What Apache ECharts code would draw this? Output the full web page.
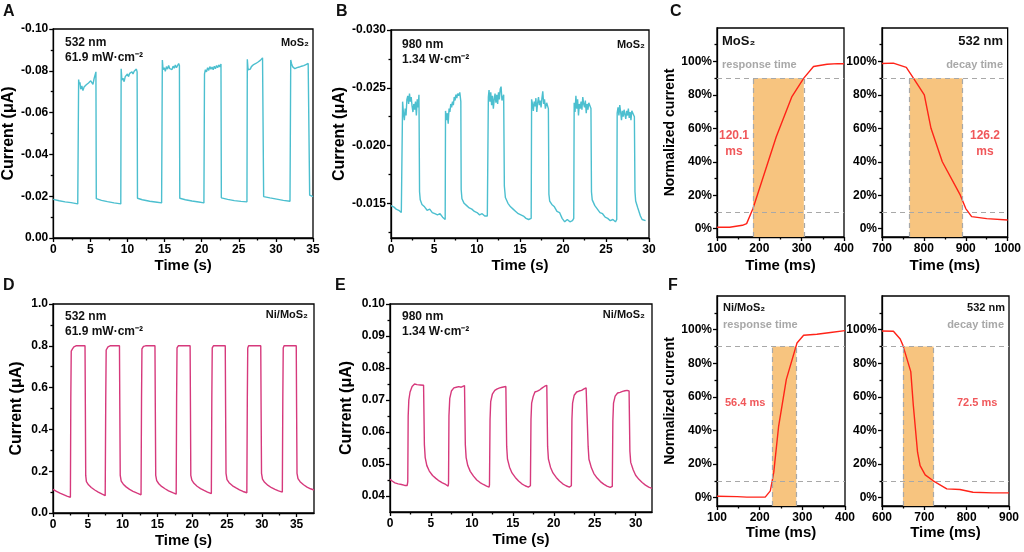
<!DOCTYPE html>
<html>
<head>
<meta charset="utf-8">
<script src="https://cdn.jsdelivr.net/npm/echarts@6.0.0/dist/echarts.min.js"></script>
<style>
  html, body { margin: 0; padding: 0; background: #fff; }
  #chart-container { width: 1024px; height: 552px; }
</style>
</head>
<body>
<div id="chart-container"></div>
<script>
'use strict';

// ---- tick values ----
const aXTicks = [0, 5, 10, 15, 20, 25, 30, 35];
const aXMinor = [2.5, 7.5, 12.5, 17.5, 22.5, 27.5, 32.5];
const aYTicks = [0, -0.02, -0.04, -0.06, -0.08, -0.10];
const aYMinor = [-0.01, -0.03, -0.05, -0.07, -0.09];
const bXTicks = [0, 5, 10, 15, 20, 25, 30];
const bXMinor = [2.5, 7.5, 12.5, 17.5, 22.5, 27.5];
const bYTicks = [-0.030, -0.025, -0.020, -0.015];
const bYMinor = [-0.0275, -0.0225, -0.0175, -0.0125];
const dXTicks = [0, 5, 10, 15, 20, 25, 30, 35];
const dXMinor = [2.5, 7.5, 12.5, 17.5, 22.5, 27.5, 32.5];
const dYTicks = [0, 0.2, 0.4, 0.6, 0.8, 1.0];
const dYMinor = [0.1, 0.3, 0.5, 0.7, 0.9];
const eXTicks = [0, 5, 10, 15, 20, 25, 30];
const eXMinor = [2.5, 7.5, 12.5, 17.5, 22.5, 27.5];
const eYTicks = [0.04, 0.05, 0.06, 0.07, 0.08, 0.09, 0.10];
const eYMinor = [0.045, 0.055, 0.065, 0.075, 0.085, 0.095];
const cXTicksL = [100, 200, 300, 400];
const cXMinorL = [150, 250, 350];
const cXTicksR = [700, 800, 900, 1000];
const cXMinorR = [750, 850, 950];
const fXTicksL = [100, 200, 300, 400];
const fXMinorL = [150, 250, 350];
const fXTicksR = [600, 700, 800, 900];
const fXMinorR = [650, 750, 850];
const normTicks = [0, 20, 40, 60, 80, 100];
const normMinor = [10, 30, 50, 70, 90, 110];

// ---- 10% / 90% levels and shaded spans (ms) ----
const levels = [10, 90];
const cLeftShade = [185, 305.1];
const cRightShade = [766, 892.2];
const fLeftShade = [229.5, 285.9];
const fRightShade = [649.5, 722];

// ---- A: MoS2, 532 nm [time s, current uA] ----
const aTrace = [
  [0, -0.0185], [0.8, -0.0178], [1.6, -0.0173], [2.4, -0.0169], [3.3, -0.0163],
  [3.42, -0.0758], [3.5, -0.0735], [3.6, -0.0745], [3.7, -0.0712], [3.85, -0.0728], [4, -0.0705],
  [4.15, -0.0722], [4.3, -0.0718], [4.45, -0.0733], [4.6, -0.0725], [4.75, -0.0742], [4.9, -0.0738],
  [5.05, -0.0752], [5.2, -0.0745], [5.35, -0.0735], [5.5, -0.0762], [5.65, -0.0758], [5.75, -0.0795],
  [5.8, -0.0188], [6.5, -0.0180], [7.3, -0.0174], [8.2, -0.0168], [9.1, -0.0163],
  [9.15, -0.081], [9.25, -0.0755], [9.4, -0.0765], [9.55, -0.0748], [9.7, -0.0772], [9.85, -0.0768],
  [10, -0.0785], [10.15, -0.0772], [10.3, -0.0788], [10.45, -0.078], [10.6, -0.0795], [10.75, -0.0785],
  [10.9, -0.0798], [11.05, -0.079], [11.2, -0.0808], [11.3, -0.0795],
  [11.35, -0.019], [12, -0.0183], [13, -0.0176], [14, -0.0171], [14.6, -0.0168],
  [14.7, -0.0852], [14.8, -0.0805], [14.95, -0.0815], [15.1, -0.0798], [15.25, -0.082], [15.4, -0.0808],
  [15.55, -0.0825], [15.7, -0.081], [15.85, -0.0818], [16, -0.0806], [16.15, -0.0822], [16.3, -0.0812],
  [16.45, -0.0828], [16.6, -0.0815], [16.75, -0.0822], [16.9, -0.0835], [17, -0.0825],
  [17.05, -0.019], [17.8, -0.0183], [18.7, -0.0177], [19.6, -0.0172], [20.3, -0.0168],
  [20.38, -0.0785], [20.5, -0.0805], [20.65, -0.0795], [20.8, -0.0815], [20.95, -0.0802], [21.1, -0.082],
  [21.25, -0.0808], [21.4, -0.0818], [21.55, -0.0805], [21.7, -0.0822], [21.85, -0.081], [22, -0.0825],
  [22.15, -0.0815], [22.3, -0.0828], [22.45, -0.0818], [22.6, -0.0832],
  [22.65, -0.0192], [23.5, -0.0185], [24.4, -0.0179], [25.3, -0.0175], [26.1, -0.0173],
  [26.15, -0.0855], [26.25, -0.0805], [26.4, -0.0812], [26.55, -0.0808], [26.7, -0.082], [26.85, -0.0815],
  [27, -0.083], [27.15, -0.0825], [27.3, -0.0835], [27.45, -0.0828], [27.6, -0.0842], [27.75, -0.0838],
  [27.9, -0.085], [28.05, -0.0845], [28.2, -0.0862], [28.3, -0.0855],
  [28.35, -0.0198], [29.2, -0.0192], [30.1, -0.0186], [31, -0.0180], [31.9, -0.0176],
  [32, -0.0852], [32.1, -0.0835], [32.25, -0.082], [32.4, -0.0828], [32.55, -0.081], [32.7, -0.0805],
  [32.85, -0.0815], [33, -0.0808], [33.15, -0.0818], [33.3, -0.0812], [33.45, -0.0822], [33.6, -0.0815],
  [33.75, -0.0825], [33.9, -0.0818], [34.05, -0.083], [34.2, -0.0822], [34.35, -0.0835], [34.5, -0.0828],
  [34.55, -0.0205], [35, -0.0198]
];

// ---- B: MoS2, 980 nm ----
const bTrace = [
  [0, -0.0148], [0.3, -0.0147], [0.6, -0.0145], [0.9, -0.0144], [1.2, -0.0142], [1.3, -0.0143],
  [1.35, -0.0238], [1.45, -0.0228], [1.55, -0.0222], [1.65, -0.0232], [1.75, -0.0226], [1.85, -0.0240],
  [1.95, -0.0243], [2.05, -0.0236], [2.15, -0.0245], [2.25, -0.0238], [2.35, -0.0242], [2.45, -0.0234],
  [2.55, -0.0229], [2.65, -0.0236], [2.75, -0.0231], [2.85, -0.0238], [2.95, -0.0226], [3.05, -0.0240],
  [3.15, -0.0233], [3.25, -0.0244],
  [3.32, -0.0160], [3.4, -0.0153], [3.6, -0.0149], [3.9, -0.0147], [4.2, -0.0144], [4.5, -0.0145],
  [4.8, -0.0142], [5.1, -0.0141], [5.4, -0.0140], [5.7, -0.0141], [6.0, -0.0138], [6.3, -0.0136],
  [6.34, -0.0230], [6.45, -0.0222], [6.55, -0.0228], [6.65, -0.0219], [6.75, -0.0232], [6.85, -0.0229],
  [6.95, -0.0236], [7.05, -0.0233], [7.15, -0.0238], [7.25, -0.0235], [7.35, -0.0242], [7.45, -0.0239],
  [7.55, -0.0244], [7.65, -0.0241], [7.75, -0.0245], [7.85, -0.0243], [8.0, -0.0246], [8.12, -0.0238],
  [8.16, -0.0162], [8.25, -0.0154], [8.5, -0.0150], [8.8, -0.0148], [9.1, -0.0146], [9.4, -0.0145],
  [9.7, -0.0143], [10.0, -0.0142], [10.3, -0.0140], [10.6, -0.0141], [10.9, -0.0139], [11.2, -0.0139],
  [11.32, -0.0242], [11.4, -0.0248], [11.5, -0.0238], [11.6, -0.0246], [11.7, -0.0235], [11.8, -0.0243],
  [11.9, -0.0232], [12.0, -0.0240], [12.1, -0.0245], [12.2, -0.0237], [12.3, -0.0244], [12.4, -0.0236],
  [12.5, -0.0246], [12.6, -0.0240], [12.7, -0.0249], [12.8, -0.0251], [12.9, -0.0239], [13.1, -0.0244],
  [13.18, -0.0165], [13.3, -0.0155], [13.6, -0.0150], [13.9, -0.0147], [14.2, -0.0145], [14.5, -0.0143],
  [14.8, -0.0141], [15.1, -0.0140], [15.4, -0.0139], [15.7, -0.0137], [16.0, -0.0136], [16.3, -0.0137],
  [16.35, -0.0240], [16.45, -0.0236], [16.55, -0.0230], [16.65, -0.0238], [16.75, -0.0234], [16.85, -0.0241],
  [16.95, -0.0229], [17.05, -0.0237], [17.15, -0.0242], [17.25, -0.0235], [17.35, -0.0239], [17.45, -0.0233],
  [17.55, -0.0241], [17.65, -0.0247], [17.75, -0.0236], [17.85, -0.0240], [17.95, -0.0232], [18.1, -0.0237],
  [18.3, -0.0232],
  [18.36, -0.0158], [18.45, -0.0152], [18.7, -0.0149], [19.0, -0.0147], [19.3, -0.0143], [19.6, -0.0142],
  [19.9, -0.0137], [20.2, -0.0134], [20.5, -0.0136], [20.8, -0.0134], [21.1, -0.0135], [21.25, -0.0137],
  [21.3, -0.0237], [21.4, -0.0229], [21.5, -0.0243], [21.6, -0.0232], [21.7, -0.0240], [21.8, -0.0226],
  [21.9, -0.0236], [22.0, -0.0232], [22.1, -0.0238], [22.2, -0.0231], [22.3, -0.0242], [22.4, -0.0236],
  [22.5, -0.0233], [22.6, -0.0239], [22.7, -0.0228], [22.8, -0.0236], [22.9, -0.0231], [23.0, -0.0237],
  [23.25, -0.0232],
  [23.31, -0.0160], [23.4, -0.0153], [23.7, -0.0148], [24.0, -0.0145], [24.3, -0.0142], [24.6, -0.0141],
  [24.9, -0.0138], [25.2, -0.0137], [25.5, -0.0135], [25.8, -0.0136], [26.1, -0.0134], [26.25, -0.0136],
  [26.3, -0.0228], [26.4, -0.0233], [26.5, -0.0226], [26.6, -0.0235], [26.7, -0.0229], [26.8, -0.0222],
  [26.9, -0.0230], [27.0, -0.0225], [27.1, -0.0231], [27.2, -0.0227], [27.3, -0.0223], [27.4, -0.0230],
  [27.5, -0.0226], [27.6, -0.0232], [27.7, -0.0224], [27.8, -0.0229], [27.9, -0.0222], [28.0, -0.0230],
  [28.3, -0.0225],
  [28.37, -0.0160], [28.45, -0.0152], [28.7, -0.0146], [29.0, -0.0139], [29.2, -0.0136], [29.4, -0.0137],
  [29.6, -0.0135]
];

// ---- D: Ni/MoS2, 532 nm ----
const dTrace = [
  [0, 0.113], [0.5, 0.103], [1.0, 0.095], [1.5, 0.088], [2.0, 0.081], [2.5, 0.075],
  [2.56, 0.55], [2.62, 0.775], [2.8, 0.785], [3.0, 0.795], [3.3, 0.8], [4.6, 0.8],
  [4.65, 0.5], [4.7, 0.18], [4.8, 0.15], [5.1, 0.135], [5.5, 0.122], [6.0, 0.11], [6.5, 0.1], [7.0, 0.091], [7.5, 0.083],
  [7.58, 0.55], [7.64, 0.78], [7.9, 0.795], [8.2, 0.8], [9.55, 0.8],
  [9.6, 0.5], [9.66, 0.18], [9.8, 0.153], [10.1, 0.138], [10.5, 0.125], [11, 0.113], [11.5, 0.104], [12.1, 0.095], [12.65, 0.087],
  [12.72, 0.55], [12.78, 0.785], [13.0, 0.797], [13.3, 0.8], [14.65, 0.8],
  [14.7, 0.5], [14.76, 0.18], [14.9, 0.155], [15.2, 0.14], [15.6, 0.127], [16.1, 0.116], [16.6, 0.106], [17.2, 0.097], [17.7, 0.09],
  [17.76, 0.55], [17.82, 0.79], [18.0, 0.8], [19.7, 0.8],
  [19.75, 0.5], [19.8, 0.18], [19.95, 0.157], [20.25, 0.142], [20.7, 0.128], [21.2, 0.117], [21.7, 0.108], [22.2, 0.1], [22.75, 0.093],
  [22.82, 0.55], [22.88, 0.79], [23.05, 0.8], [24.75, 0.8],
  [24.8, 0.5], [24.86, 0.19], [25.0, 0.16], [25.3, 0.145], [25.8, 0.13], [26.3, 0.12], [26.8, 0.111], [27.3, 0.103], [27.85, 0.097],
  [27.92, 0.55], [27.98, 0.79], [28.1, 0.8], [29.85, 0.8],
  [29.9, 0.5], [29.96, 0.19], [30.1, 0.162], [30.4, 0.147], [30.9, 0.132], [31.4, 0.121], [31.9, 0.113], [32.4, 0.106], [32.95, 0.1],
  [33.02, 0.55], [33.08, 0.79], [33.2, 0.8], [34.95, 0.8],
  [35.0, 0.5], [35.06, 0.19], [35.2, 0.165], [35.5, 0.15], [36.0, 0.135], [36.5, 0.124], [37.0, 0.116], [37.5, 0.11]
];

// ---- E: Ni/MoS2, 980 nm ----
const eTrace = [
  [0, 0.0452], [0.3, 0.0446], [0.6, 0.0441], [1.0, 0.0438], [1.4, 0.0436], [1.8, 0.0433], [2.1, 0.0433],
  [2.17, 0.0445], [2.22, 0.0650], [2.3, 0.0700], [2.45, 0.0725], [2.7, 0.0742], [3.0, 0.0750], [3.3, 0.0748],
  [3.5, 0.0753], [3.7, 0.0747], [3.9, 0.0752], [4.1, 0.0746], [4.15, 0.0750],
  [4.2, 0.0560], [4.3, 0.0520], [4.5, 0.0495], [4.8, 0.0478], [5.2, 0.0464], [5.6, 0.0455], [6.0, 0.0447],
  [6.4, 0.0441], [6.8, 0.0436], [7.1, 0.0431],
  [7.15, 0.0440], [7.2, 0.0650], [7.3, 0.0705], [7.5, 0.0728], [7.8, 0.0738], [8.1, 0.0740], [8.4, 0.0742],
  [8.7, 0.0740], [8.9, 0.0744], [9.1, 0.0745], [9.15, 0.0742],
  [9.2, 0.0560], [9.3, 0.0520], [9.5, 0.0495], [9.8, 0.0477], [10.2, 0.0462], [10.6, 0.0450], [11.0, 0.0442],
  [11.4, 0.0436], [11.8, 0.0431], [12.1, 0.0428],
  [12.15, 0.0435], [12.22, 0.0640], [12.3, 0.0695], [12.5, 0.0718], [12.8, 0.0730], [13.1, 0.0735], [13.4, 0.0738],
  [13.7, 0.0740], [13.9, 0.0737], [14.15, 0.0742],
  [14.25, 0.0555], [14.35, 0.0515], [14.6, 0.0490], [14.9, 0.0472], [15.3, 0.0458], [15.7, 0.0447], [16.1, 0.0438],
  [16.5, 0.0432], [16.9, 0.0428], [17.1, 0.0425],
  [17.15, 0.0432], [17.22, 0.0640], [17.3, 0.0690], [17.5, 0.0712], [17.7, 0.0725], [18.0, 0.0728], [18.3, 0.0732],
  [18.6, 0.0738], [18.9, 0.0743], [19.15, 0.0746],
  [19.25, 0.0555], [19.35, 0.0515], [19.6, 0.0490], [19.9, 0.0472], [20.3, 0.0458], [20.7, 0.0447], [21.1, 0.0438],
  [21.5, 0.0432], [21.9, 0.0428], [22.1, 0.0426],
  [22.15, 0.0432], [22.22, 0.0640], [22.3, 0.0690], [22.5, 0.0715], [22.8, 0.0725], [23.1, 0.0728], [23.4, 0.0730],
  [23.7, 0.0735], [23.95, 0.0738], [24.1, 0.0740],
  [24.2, 0.0555], [24.3, 0.0515], [24.6, 0.0488], [24.9, 0.0470], [25.3, 0.0456], [25.7, 0.0445], [26.1, 0.0437],
  [26.5, 0.0431], [26.9, 0.0427], [27.1, 0.0424],
  [27.15, 0.0430], [27.22, 0.0635], [27.3, 0.0690], [27.5, 0.0712], [27.8, 0.0722], [28.1, 0.0724], [28.4, 0.0727],
  [28.7, 0.0729], [28.95, 0.0730], [29.2, 0.0728],
  [29.3, 0.0540], [29.4, 0.0505], [29.7, 0.0482], [30.0, 0.0465], [30.4, 0.0452], [30.8, 0.0442], [31.2, 0.0434],
  [31.6, 0.0428], [32.0, 0.0424]
];

// ---- C / F: normalized current [time ms, %] ----
const cRise = [[100, 0.8], [130, 0.8], [160, 2], [170, 3], [185, 12], [240, 55], [277, 79], [305, 90],
  [328, 97], [360, 98.3], [385, 98.7], [400, 98.6]];
const cDecay = [[700, 98.8], [727, 99], [758, 96.5], [775, 90], [801, 80], [817, 60], [844, 40], [887, 20],
  [900, 12], [914, 7.2], [950, 6], [1000, 5.2]];
const fRise = [[100, 0.8], [147, 0.6], [170, 0.3], [213, 0.3], [225, 4], [233, 15], [244.5, 42.6],
  [262.5, 70.4], [287.5, 92], [303, 96.6], [334, 97.2], [366, 98.3], [400, 99.4]];
const fDecay = [[600, 99.2], [627, 99], [643, 94.4], [649, 90.9], [668, 75], [674, 54.8], [684, 27],
  [690, 19], [702, 13.5], [721, 10], [753, 5.2], [784, 4.8], [815, 3.2], [862, 2.8], [900, 2.8]];

const FONT = 'Arial, "Liberation Sans", Helvetica, sans-serif';
const CYAN = '#4cbfcf';
const PINK = '#d6397c';
const RED = '#ff2318';
const GREY = '#a8a8a8';
const SHADE = '#f7c47f';

const panels = [
  { rect: [53, 29, 260, 209], color: CYAN, data: aTrace,
    x: { min: 0, max: 35, ticks: aXTicks, minor: aXMinor, name: 'Time (s)', gap: 20 },
    y: { min: -0.1, max: 0, inverse: true, ticks: aYTicks, minor: aYMinor, fmt: v => v.toFixed(2), name: 'Current (μA)', gap: 36 } },
  { rect: [391, 30, 258, 208], color: CYAN, data: bTrace,
    x: { min: 0, max: 30, ticks: bXTicks, minor: bXMinor, name: 'Time (s)', gap: 20 },
    y: { min: -0.030, max: -0.012, inverse: true, ticks: bYTicks, minor: bYMinor, fmt: v => v.toFixed(3), name: 'Current (μA)', gap: 43 } },
  { rect: [717, 28, 127, 209], color: RED, data: cRise, shade: cLeftShade,
    x: { min: 100, max: 400, ticks: cXTicksL, minor: cXMinorL, name: 'Time (ms)', gap: 21 },
    y: { min: -5, max: 120, ticks: normTicks, minor: normMinor, fmt: v => v + '%', name: 'Normalized current', gap: 37 } },
  { rect: [882, 28, 128, 209], color: RED, data: cDecay, shade: cRightShade,
    x: { min: 700, max: 1000, ticks: cXTicksR, minor: cXMinorR, name: 'Time (ms)', gap: 21 },
    y: { min: -5, max: 120, ticks: normTicks, minor: normMinor, fmt: v => v + '%', name: '', gap: 37 } },
  { rect: [53, 304, 261, 209], color: PINK, data: dTrace,
    x: { min: 0, max: 37.5, ticks: dXTicks, minor: dXMinor, name: 'Time (s)', gap: 20 },
    y: { min: 0, max: 1, ticks: dYTicks, minor: dYMinor, fmt: v => v.toFixed(1), name: 'Current (μA)', gap: 28 } },
  { rect: [390, 304, 262, 208], color: PINK, data: eTrace,
    x: { min: 0, max: 32, ticks: eXTicks, minor: eXMinor, name: 'Time (s)', gap: 20 },
    y: { min: 0.035, max: 0.1, ticks: eYTicks, minor: eYMinor, fmt: v => v.toFixed(2), name: 'Current (μA)', gap: 35 } },
  { rect: [717, 296, 128, 210], color: RED, data: fRise, shade: fLeftShade,
    x: { min: 100, max: 400, ticks: fXTicksL, minor: fXMinorL, name: 'Time (ms)', gap: 16 },
    y: { min: -5, max: 120, ticks: normTicks, minor: normMinor, fmt: v => v + '%', name: 'Normalized current', gap: 33 } },
  { rect: [882, 296, 127, 210], color: RED, data: fDecay, shade: fRightShade,
    x: { min: 600, max: 900, ticks: fXTicksR, minor: fXMinorR, name: 'Time (ms)', gap: 16 },
    y: { min: -5, max: 120, ticks: normTicks, minor: normMinor, fmt: v => v + '%', name: '', gap: 33 } }
];

const black = { color: '#000', width: 1.3 };

function mainAxis(dim, i, c) {
  return {
    type: 'value', gridIndex: i, min: c.min, max: c.max, inverse: !!c.inverse,
    position: dim === 'x' ? 'bottom' : 'left',
    axisLine: { show: true, onZero: false, lineStyle: black },
    axisTick: { show: true, length: 4, customValues: c.ticks, lineStyle: black },
    axisLabel: {
      customValues: c.ticks, formatter: c.fmt || (v => String(v)),
      color: '#000', fontWeight: 'bold', fontSize: 12, fontFamily: FONT, margin: dim === 'x' ? 6 : 5
    },
    splitLine: { show: false },
    name: c.name, nameLocation: 'middle', nameGap: c.gap,
    nameTextStyle: { color: '#000', fontWeight: 'bold', fontFamily: FONT, fontSize: dim === 'x' ? 15 : (c.name === 'Normalized current' ? 14 : 16) }
  };
}

function minorAxis(dim, i, c) {
  return {
    type: 'value', gridIndex: i, min: c.min, max: c.max, inverse: !!c.inverse,
    position: dim === 'x' ? 'bottom' : 'left',
    axisLine: { show: false, onZero: false },
    axisTick: { show: true, length: 2.5, customValues: c.minor, lineStyle: black },
    axisLabel: { show: false, customValues: c.minor },
    splitLine: { show: false }
  };
}

const grids = [], xAxes = [], yAxes = [], series = [];
panels.forEach((p, i) => {
  grids.push({
    left: p.rect[0], top: p.rect[1], width: p.rect[2], height: p.rect[3],
    show: true, borderColor: '#000', borderWidth: 1.3, backgroundColor: 'transparent'
  });
  xAxes.push(mainAxis('x', i, p.x), minorAxis('x', i, p.x));
  yAxes.push(mainAxis('y', i, p.y), minorAxis('y', i, p.y));
  const s = {
    type: 'line', xAxisIndex: 2 * i, yAxisIndex: 2 * i, data: p.data,
    showSymbol: false, symbol: 'none', silent: true,
    lineStyle: { color: p.color, width: 1.4 }, itemStyle: { color: p.color }
  };
  if (p.shade) {
    const lo = p.y.min, hi = levels[1];
    s.markArea = {
      silent: true,
      itemStyle: { color: SHADE, opacity: 1 },
      data: [[{ coord: [p.shade[0], lo] }, { coord: [p.shade[1], hi] }]]
    };
    s.markLine = {
      silent: true, symbol: ['none', 'none'], label: { show: false },
      lineStyle: { type: [5, 4], color: GREY, width: 1.2 },
      data: [
        { yAxis: levels[0] }, { yAxis: levels[1] },
        [{ coord: [p.shade[0], lo] }, { coord: [p.shade[0], hi] }],
        [{ coord: [p.shade[1], lo] }, { coord: [p.shade[1], hi] }]
      ]
    };
  }
  series.push(s);
});

function txt(x, y, text, size, opt) {
  opt = opt || {};
  return {
    type: 'text', x: x, y: y, silent: true,
    style: {
      text: text, fill: opt.color || '#111', align: opt.align || 'left', verticalAlign: 'top',
      font: 'bold ' + size + 'px ' + FONT, lineHeight: opt.lh || size + 2
    }
  };
}

const RTXT = '#f0575a';
const graphics = [
  txt(3, 3, 'A', 16), txt(336, 3, 'B', 16), txt(670, 3, 'C', 16),
  txt(3, 277, 'D', 16), txt(335, 277, 'E', 16), txt(668, 277, 'F', 16),
  // A
  txt(65, 36, '532 nm', 12), txt(65, 51, '61.9 mW·cm⁻²', 12), txt(309, 36, 'MoS₂', 11, { align: 'right' }),
  // B
  txt(402, 38, '980 nm', 12), txt(402, 53, '1.34 W·cm⁻²', 12), txt(645, 38, 'MoS₂', 11, { align: 'right' }),
  // C
  txt(722, 34, 'MoS₂', 13), txt(722, 58, 'response time', 11, { color: GREY }),
  txt(734, 128, '120.1\nms', 12, { align: 'center', color: RTXT, lh: 16 }),
  txt(1003, 34, '532 nm', 13, { align: 'right' }), txt(1003, 58, 'decay time', 11, { align: 'right', color: GREY }),
  txt(985, 128, '126.2\nms', 12, { align: 'center', color: RTXT, lh: 16 }),
  // D
  txt(65, 310, '532 nm', 12), txt(65, 325, '61.9 mW·cm⁻²', 12), txt(308, 308, 'Ni/MoS₂', 11, { align: 'right' }),
  // E
  txt(402, 310, '980 nm', 12), txt(402, 325, '1.34 W·cm⁻²', 12), txt(645, 308, 'Ni/MoS₂', 11, { align: 'right' }),
  // F
  txt(723, 301, 'Ni/MoS₂', 11), txt(723, 318, 'response time', 11, { color: GREY }),
  txt(725, 396, '56.4 ms', 11, { color: RTXT }),
  txt(1005, 301, '532 nm', 11, { align: 'right' }), txt(1004, 318, 'decay time', 11, { align: 'right', color: GREY }),
  txt(957, 396, '72.5 ms', 11, { color: RTXT })
];

const myChart = echarts.init(document.getElementById('chart-container'), null, { renderer: 'canvas' });
myChart.setOption({
  animation: false,
  backgroundColor: '#fff',
  grid: grids,
  xAxis: xAxes,
  yAxis: yAxes,
  series: series,
  graphic: graphics
});
window.addEventListener('resize', myChart.resize);
</script>
</body>
</html>
